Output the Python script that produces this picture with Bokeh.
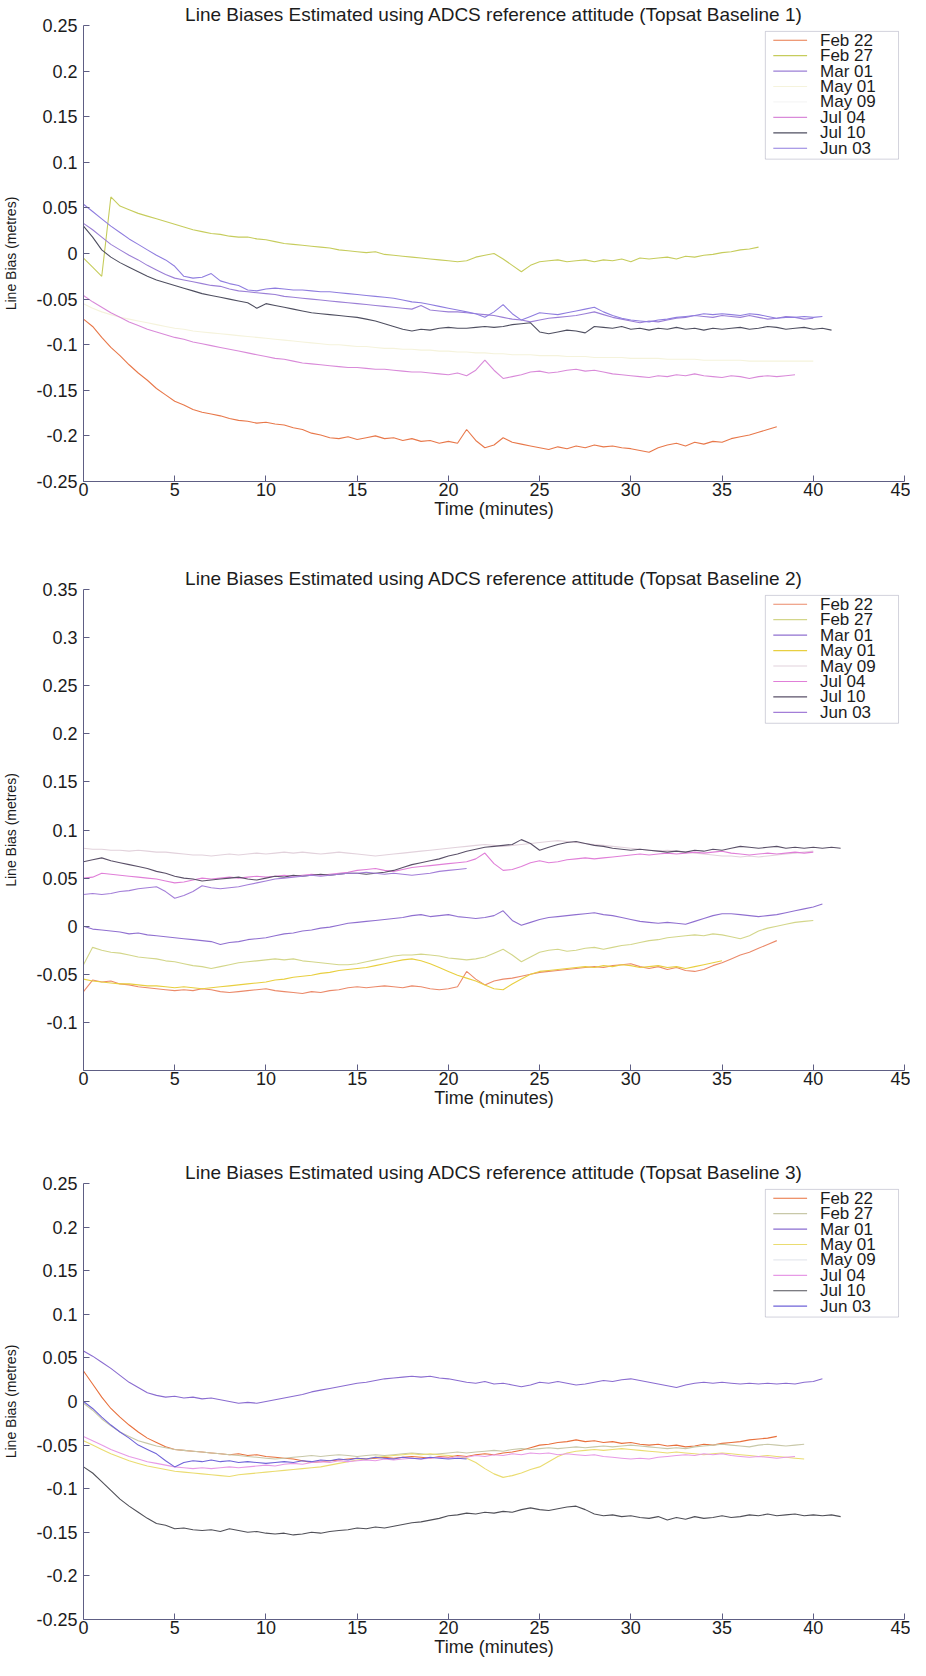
from bokeh.plotting import figure
from bokeh.models import (Range1d, FixedTicker, CustomJSTickFormatter, Label,
                          BoxAnnotation, ColumnDataSource, Spacer)
from bokeh.layouts import column
from bokeh.embed import file_html
from bokeh.resources import INLINE

STEP = 0.5  # minutes between samples

labels = ["Feb 22", "Feb 27", "Mar 01", "May 01", "May 09", "Jul 04", "Jul 10", "Jun 03"]
x_ticks = [0, 5, 10, 15, 20, 25, 30, 35, 40, 45]
y_ticks_b1 = [-0.25, -0.2, -0.15, -0.1, -0.05, 0, 0.05, 0.1, 0.15, 0.2, 0.25]
y_ticks_b2 = [-0.1, -0.05, 0, 0.05, 0.1, 0.15, 0.2, 0.25, 0.3, 0.35]
y_ticks_b3 = [-0.25, -0.2, -0.15, -0.1, -0.05, 0, 0.05, 0.1, 0.15, 0.2, 0.25]

# ---------------- Baseline 1 ----------------
b1_feb22 = [-0.072, -0.080, -0.092, -0.103, -0.112, -0.122, -0.131, -0.139, -0.148, -0.155,
            -0.162, -0.166, -0.171, -0.174, -0.176, -0.178, -0.181, -0.183, -0.184, -0.186,
            -0.185, -0.187, -0.188, -0.191, -0.193, -0.197, -0.199, -0.202, -0.203, -0.201,
            -0.204, -0.202, -0.200, -0.203, -0.202, -0.205, -0.203, -0.206, -0.205, -0.208,
            -0.206, -0.208, -0.193, -0.205, -0.213, -0.210, -0.202, -0.207, -0.209, -0.211,
            -0.213, -0.215, -0.212, -0.214, -0.211, -0.213, -0.210, -0.212, -0.211, -0.213,
            -0.214, -0.216, -0.218, -0.213, -0.210, -0.208, -0.211, -0.207, -0.209, -0.206,
            -0.207, -0.203, -0.201, -0.199, -0.196, -0.193, -0.190]
b1_feb27 = [-0.005, -0.015, -0.025, 0.062, 0.052, 0.048, 0.044, 0.041, 0.038, 0.035,
            0.032, 0.029, 0.026, 0.024, 0.022, 0.021, 0.019, 0.018, 0.018, 0.016,
            0.015, 0.013, 0.011, 0.010, 0.009, 0.008, 0.007, 0.006, 0.004, 0.003,
            0.002, 0.001, 0.002, -0.001, -0.002, -0.003, -0.004, -0.005, -0.006, -0.007,
            -0.008, -0.009, -0.008, -0.004, -0.002, 0.000, -0.006, -0.013, -0.020, -0.013,
            -0.009, -0.008, -0.007, -0.009, -0.008, -0.007, -0.009, -0.007, -0.008, -0.006,
            -0.009, -0.005, -0.006, -0.005, -0.004, -0.006, -0.003, -0.004, -0.002, -0.001,
            0.001, 0.002, 0.004, 0.005, 0.007]
b1_mar01 = [0.033, 0.026, 0.018, 0.010, 0.004, -0.002, -0.007, -0.013, -0.018, -0.023,
            -0.027, -0.029, -0.031, -0.033, -0.035, -0.036, -0.039, -0.041, -0.042, -0.043,
            -0.044, -0.045, -0.047, -0.048, -0.049, -0.050, -0.051, -0.052, -0.053, -0.054,
            -0.055, -0.056, -0.057, -0.058, -0.059, -0.060, -0.061, -0.057, -0.062, -0.063,
            -0.064, -0.064, -0.065, -0.066, -0.067, -0.068, -0.070, -0.072, -0.073, -0.075,
            -0.073, -0.071, -0.070, -0.069, -0.068, -0.066, -0.064, -0.067, -0.070, -0.072,
            -0.074, -0.076, -0.074, -0.075, -0.073, -0.071, -0.070, -0.068, -0.069, -0.070,
            -0.068, -0.069, -0.070, -0.068, -0.070, -0.072, -0.071, -0.069, -0.070, -0.072,
            -0.071]
b1_may01 = [-0.055, -0.060, -0.064, -0.067, -0.070, -0.072, -0.074, -0.076, -0.078, -0.080,
            -0.082, -0.083, -0.085, -0.086, -0.087, -0.088, -0.089, -0.090, -0.091, -0.092,
            -0.093, -0.094, -0.095, -0.096, -0.097, -0.098, -0.099, -0.100, -0.100, -0.101,
            -0.102, -0.102, -0.103, -0.104, -0.104, -0.105, -0.105, -0.106, -0.106, -0.107,
            -0.107, -0.108, -0.108, -0.109, -0.109, -0.110, -0.110, -0.111, -0.111, -0.111,
            -0.112, -0.112, -0.112, -0.113, -0.113, -0.113, -0.114, -0.114, -0.114, -0.114,
            -0.115, -0.115, -0.115, -0.115, -0.116, -0.116, -0.116, -0.116, -0.117, -0.117,
            -0.117, -0.117, -0.117, -0.118, -0.118, -0.118, -0.118, -0.118, -0.118, -0.118,
            -0.118]
b1_may09 = []
b1_jul04 = [-0.046, -0.053, -0.059, -0.065, -0.070, -0.075, -0.079, -0.083, -0.086, -0.089,
            -0.092, -0.094, -0.097, -0.099, -0.101, -0.103, -0.105, -0.107, -0.109, -0.111,
            -0.113, -0.115, -0.116, -0.118, -0.120, -0.121, -0.122, -0.123, -0.124, -0.125,
            -0.125, -0.126, -0.127, -0.127, -0.128, -0.129, -0.130, -0.130, -0.131, -0.132,
            -0.133, -0.131, -0.134, -0.128, -0.117, -0.128, -0.137, -0.135, -0.133, -0.130,
            -0.129, -0.131, -0.130, -0.128, -0.127, -0.129, -0.128, -0.130, -0.132, -0.133,
            -0.134, -0.135, -0.136, -0.134, -0.135, -0.133, -0.134, -0.132, -0.134, -0.135,
            -0.136, -0.134, -0.135, -0.137, -0.135, -0.134, -0.135, -0.134, -0.133]
b1_jul10 = [0.030, 0.018, 0.004, -0.004, -0.010, -0.015, -0.020, -0.025, -0.029, -0.032,
            -0.035, -0.038, -0.041, -0.044, -0.046, -0.048, -0.050, -0.052, -0.054, -0.060,
            -0.055, -0.057, -0.059, -0.061, -0.063, -0.065, -0.066, -0.067, -0.068, -0.069,
            -0.070, -0.072, -0.074, -0.077, -0.080, -0.083, -0.085, -0.083, -0.084, -0.082,
            -0.081, -0.082, -0.082, -0.081, -0.080, -0.081, -0.080, -0.078, -0.077, -0.076,
            -0.086, -0.088, -0.086, -0.084, -0.085, -0.087, -0.080, -0.081, -0.082, -0.080,
            -0.083, -0.082, -0.084, -0.082, -0.083, -0.081, -0.083, -0.082, -0.084, -0.082,
            -0.083, -0.082, -0.081, -0.083, -0.082, -0.080, -0.081, -0.083, -0.082, -0.081,
            -0.083, -0.082, -0.084]
b1_jun03 = [0.054, 0.046, 0.038, 0.030, 0.023, 0.016, 0.010, 0.004, -0.002, -0.007,
            -0.014, -0.025, -0.027, -0.026, -0.022, -0.030, -0.033, -0.035, -0.040, -0.041,
            -0.039, -0.038, -0.039, -0.040, -0.040, -0.041, -0.042, -0.042, -0.043, -0.044,
            -0.045, -0.046, -0.047, -0.048, -0.049, -0.051, -0.053, -0.054, -0.056, -0.058,
            -0.060, -0.062, -0.064, -0.066, -0.070, -0.064, -0.056, -0.066, -0.073, -0.069,
            -0.065, -0.066, -0.067, -0.065, -0.063, -0.061, -0.059, -0.064, -0.068, -0.071,
            -0.073, -0.074, -0.075, -0.073, -0.072, -0.070, -0.069, -0.068, -0.066, -0.067,
            -0.066, -0.067, -0.068, -0.066, -0.067, -0.069, -0.071, -0.070, -0.070, -0.069,
            -0.070, -0.069]

# ---------------- Baseline 2 ----------------
b2_feb22 = [-0.068, -0.056, -0.058, -0.057, -0.060, -0.061, -0.063, -0.064, -0.065, -0.066,
            -0.067, -0.066, -0.067, -0.065, -0.066, -0.068, -0.069, -0.068, -0.067, -0.066,
            -0.065, -0.067, -0.068, -0.069, -0.070, -0.068, -0.069, -0.067, -0.066, -0.064,
            -0.063, -0.064, -0.063, -0.062, -0.063, -0.064, -0.062, -0.063, -0.065, -0.066,
            -0.065, -0.063, -0.047, -0.055, -0.061, -0.057, -0.055, -0.054, -0.052, -0.050,
            -0.048, -0.047, -0.046, -0.045, -0.044, -0.043, -0.042, -0.043, -0.041, -0.040,
            -0.039, -0.042, -0.044, -0.042, -0.045, -0.043, -0.046, -0.047, -0.045, -0.041,
            -0.038, -0.034, -0.030, -0.027, -0.023, -0.019, -0.015]
b2_feb27 = [-0.040, -0.022, -0.025, -0.027, -0.028, -0.030, -0.032, -0.033, -0.034, -0.036,
            -0.037, -0.039, -0.041, -0.042, -0.044, -0.042, -0.040, -0.038, -0.037, -0.036,
            -0.035, -0.034, -0.035, -0.034, -0.036, -0.037, -0.038, -0.039, -0.040, -0.040,
            -0.039, -0.037, -0.035, -0.033, -0.031, -0.030, -0.030, -0.029, -0.030, -0.031,
            -0.033, -0.034, -0.035, -0.034, -0.032, -0.028, -0.024, -0.030, -0.037, -0.032,
            -0.027, -0.025, -0.024, -0.026, -0.025, -0.023, -0.022, -0.024, -0.022, -0.020,
            -0.019, -0.017, -0.015, -0.014, -0.012, -0.011, -0.010, -0.009, -0.010, -0.008,
            -0.009, -0.011, -0.013, -0.010, -0.005, -0.002, 0.000, 0.002, 0.004, 0.005,
            0.006]
b2_mar01 = [0.000, -0.003, -0.004, -0.005, -0.006, -0.008, -0.007, -0.009, -0.010, -0.011,
            -0.012, -0.013, -0.014, -0.015, -0.016, -0.019, -0.017, -0.016, -0.014, -0.013,
            -0.012, -0.010, -0.008, -0.007, -0.005, -0.004, -0.002, -0.001, 0.001, 0.003,
            0.004, 0.005, 0.006, 0.007, 0.008, 0.009, 0.011, 0.012, 0.010, 0.011,
            0.012, 0.010, 0.009, 0.008, 0.009, 0.011, 0.016, 0.006, 0.001, 0.004,
            0.007, 0.009, 0.010, 0.011, 0.012, 0.013, 0.014, 0.012, 0.011, 0.009,
            0.007, 0.005, 0.004, 0.003, 0.004, 0.003, 0.002, 0.005, 0.008, 0.011,
            0.013, 0.013, 0.012, 0.011, 0.010, 0.011, 0.012, 0.014, 0.016, 0.018,
            0.020, 0.023]
b2_may01 = [-0.055, -0.057, -0.058, -0.059, -0.060, -0.060, -0.061, -0.062, -0.062, -0.063,
            -0.064, -0.063, -0.064, -0.065, -0.064, -0.063, -0.062, -0.061, -0.060, -0.059,
            -0.058, -0.056, -0.055, -0.053, -0.052, -0.051, -0.049, -0.048, -0.046, -0.045,
            -0.044, -0.043, -0.041, -0.039, -0.037, -0.035, -0.034, -0.036, -0.039, -0.043,
            -0.047, -0.051, -0.054, -0.057, -0.061, -0.065, -0.066, -0.060, -0.055, -0.050,
            -0.047, -0.046, -0.045, -0.044, -0.043, -0.042, -0.043, -0.041, -0.042, -0.040,
            -0.041, -0.043, -0.042, -0.041, -0.043, -0.042, -0.044, -0.042, -0.040, -0.038,
            -0.036]
b2_may09 = [0.081, 0.080, 0.080, 0.079, 0.079, 0.078, 0.079, 0.078, 0.077, 0.077,
            0.076, 0.075, 0.074, 0.074, 0.073, 0.074, 0.075, 0.074, 0.075, 0.076,
            0.075, 0.076, 0.077, 0.076, 0.077, 0.076, 0.075, 0.076, 0.077, 0.076,
            0.075, 0.074, 0.073, 0.074, 0.075, 0.076, 0.077, 0.078, 0.079, 0.080,
            0.081, 0.082, 0.083, 0.084, 0.085, 0.084, 0.083, 0.084, 0.085, 0.086,
            0.087, 0.088, 0.089, 0.088, 0.087, 0.086, 0.085, 0.084, 0.083, 0.082,
            0.081, 0.080, 0.079, 0.078, 0.079, 0.078, 0.077, 0.076, 0.075, 0.074,
            0.073, 0.073, 0.072, 0.073, 0.072, 0.073, 0.074, 0.075, 0.076, 0.077,
            0.078]
b2_jul04 = [0.050, 0.051, 0.055, 0.054, 0.053, 0.052, 0.051, 0.050, 0.049, 0.047,
            0.045, 0.046, 0.048, 0.050, 0.049, 0.050, 0.051, 0.050, 0.051, 0.052,
            0.051, 0.052, 0.053, 0.052, 0.053, 0.054, 0.053, 0.054, 0.055, 0.056,
            0.058, 0.059, 0.060, 0.058, 0.057, 0.059, 0.061, 0.062, 0.063, 0.064,
            0.065, 0.066, 0.067, 0.070, 0.076, 0.065, 0.058, 0.059, 0.062, 0.066,
            0.068, 0.066, 0.067, 0.069, 0.070, 0.071, 0.070, 0.071, 0.072, 0.073,
            0.074, 0.075, 0.074, 0.075, 0.076, 0.075, 0.076, 0.077, 0.076, 0.077,
            0.078, 0.076, 0.075, 0.074, 0.075, 0.076, 0.075, 0.076, 0.077, 0.076,
            0.077]
b2_jul10 = [0.067, 0.069, 0.071, 0.068, 0.066, 0.064, 0.062, 0.060, 0.057, 0.055,
            0.052, 0.050, 0.049, 0.047, 0.048, 0.049, 0.050, 0.051, 0.049, 0.048,
            0.050, 0.052, 0.051, 0.053, 0.052, 0.053, 0.054, 0.053, 0.054, 0.055,
            0.055, 0.054, 0.055, 0.056, 0.058, 0.061, 0.064, 0.066, 0.068, 0.070,
            0.073, 0.075, 0.078, 0.080, 0.082, 0.083, 0.084, 0.085, 0.090, 0.086,
            0.079, 0.082, 0.085, 0.087, 0.088, 0.086, 0.084, 0.083, 0.081, 0.080,
            0.079, 0.080, 0.079, 0.078, 0.077, 0.078, 0.077, 0.079, 0.078, 0.080,
            0.079, 0.081, 0.083, 0.082, 0.081, 0.082, 0.083, 0.081, 0.082, 0.081,
            0.082, 0.081, 0.082, 0.081]
b2_jun03 = [0.033, 0.034, 0.033, 0.034, 0.036, 0.037, 0.039, 0.040, 0.041, 0.036,
            0.029, 0.032, 0.036, 0.042, 0.040, 0.039, 0.040, 0.041, 0.043, 0.045,
            0.047, 0.049, 0.050, 0.051, 0.052, 0.053, 0.052, 0.053, 0.054, 0.055,
            0.055, 0.056, 0.055, 0.054, 0.055, 0.054, 0.053, 0.054, 0.055, 0.057,
            0.058, 0.059, 0.060]

# ---------------- Baseline 3 ----------------
b3_feb22 = [0.035, 0.020, 0.005, -0.008, -0.018, -0.027, -0.035, -0.042, -0.047, -0.052,
            -0.055, -0.056, -0.057, -0.058, -0.059, -0.060, -0.061, -0.060, -0.062, -0.061,
            -0.063, -0.064, -0.065, -0.066, -0.068, -0.070, -0.069, -0.068, -0.067, -0.066,
            -0.065, -0.066, -0.065, -0.064, -0.065, -0.064, -0.063, -0.064, -0.065, -0.063,
            -0.064, -0.062, -0.063, -0.061, -0.060, -0.061, -0.059, -0.058, -0.056, -0.053,
            -0.050, -0.049, -0.047, -0.046, -0.044, -0.046, -0.045, -0.047, -0.046, -0.048,
            -0.047, -0.049, -0.050, -0.049, -0.051, -0.050, -0.052, -0.051, -0.049, -0.050,
            -0.048, -0.047, -0.046, -0.044, -0.043, -0.042, -0.040]
b3_feb27 = [-0.002, -0.010, -0.020, -0.028, -0.035, -0.040, -0.045, -0.048, -0.051, -0.053,
            -0.055, -0.056, -0.057, -0.058, -0.059, -0.060, -0.061, -0.062, -0.063, -0.064,
            -0.065, -0.066, -0.065, -0.064, -0.063, -0.062, -0.063, -0.062, -0.061, -0.062,
            -0.063, -0.062, -0.061, -0.062, -0.061, -0.060, -0.059, -0.060, -0.061, -0.060,
            -0.059, -0.058, -0.059, -0.058, -0.057, -0.056, -0.057, -0.055, -0.054, -0.055,
            -0.054, -0.053, -0.054, -0.053, -0.052, -0.053, -0.052, -0.051, -0.052, -0.051,
            -0.050, -0.051, -0.052, -0.053, -0.054, -0.053, -0.054, -0.052, -0.051, -0.050,
            -0.049, -0.050, -0.051, -0.052, -0.050, -0.049, -0.050, -0.051, -0.050, -0.049]
b3_mar01 = [0.058, 0.052, 0.045, 0.038, 0.030, 0.022, 0.016, 0.010, 0.007, 0.005,
            0.006, 0.004, 0.005, 0.003, 0.004, 0.002, 0.000, -0.002, -0.001, -0.002,
            0.000, 0.002, 0.004, 0.006, 0.008, 0.011, 0.013, 0.015, 0.017, 0.019,
            0.021, 0.022, 0.024, 0.026, 0.027, 0.028, 0.029, 0.028, 0.029, 0.027,
            0.026, 0.024, 0.022, 0.021, 0.023, 0.020, 0.021, 0.019, 0.017, 0.019,
            0.022, 0.021, 0.023, 0.021, 0.019, 0.020, 0.022, 0.024, 0.023, 0.025,
            0.026, 0.024, 0.022, 0.020, 0.018, 0.016, 0.019, 0.021, 0.022, 0.021,
            0.022, 0.021, 0.020, 0.021, 0.020, 0.021, 0.020, 0.021, 0.020, 0.022,
            0.023, 0.026]
b3_may01 = [-0.045, -0.050, -0.055, -0.060, -0.064, -0.068, -0.071, -0.074, -0.076, -0.078,
            -0.080, -0.081, -0.082, -0.083, -0.084, -0.085, -0.086, -0.084, -0.083, -0.082,
            -0.081, -0.080, -0.079, -0.078, -0.077, -0.076, -0.075, -0.073, -0.071, -0.069,
            -0.067, -0.066, -0.064, -0.063, -0.062, -0.061, -0.060, -0.061, -0.060, -0.061,
            -0.062, -0.063, -0.065, -0.070, -0.077, -0.083, -0.087, -0.085, -0.082, -0.078,
            -0.075, -0.069, -0.063, -0.059, -0.057, -0.056, -0.055, -0.056, -0.055, -0.054,
            -0.055, -0.056, -0.057, -0.058, -0.059, -0.058, -0.059, -0.060, -0.061, -0.060,
            -0.059, -0.060, -0.061, -0.062, -0.063, -0.062, -0.063, -0.064, -0.065, -0.066]
b3_may09 = []
b3_jul04 = [-0.040, -0.045, -0.050, -0.055, -0.059, -0.063, -0.066, -0.069, -0.071, -0.073,
            -0.075, -0.076, -0.077, -0.076, -0.077, -0.076, -0.075, -0.076, -0.075, -0.074,
            -0.073, -0.074, -0.072, -0.071, -0.072, -0.070, -0.069, -0.070, -0.068, -0.069,
            -0.068, -0.067, -0.068, -0.066, -0.067, -0.066, -0.065, -0.066, -0.065, -0.064,
            -0.065, -0.063, -0.064, -0.062, -0.063, -0.061, -0.062, -0.060, -0.061, -0.059,
            -0.060, -0.059, -0.061, -0.060, -0.061, -0.062, -0.061, -0.063, -0.064, -0.065,
            -0.066, -0.065, -0.066, -0.064, -0.063, -0.062, -0.061, -0.062, -0.060, -0.061,
            -0.060, -0.062, -0.063, -0.064, -0.063, -0.064, -0.065, -0.064, -0.063]
b3_jul10 = [-0.075, -0.082, -0.092, -0.102, -0.112, -0.120, -0.127, -0.134, -0.140, -0.142,
            -0.146, -0.145, -0.147, -0.148, -0.147, -0.149, -0.146, -0.148, -0.150, -0.149,
            -0.151, -0.152, -0.151, -0.153, -0.152, -0.150, -0.151, -0.149, -0.148, -0.147,
            -0.145, -0.146, -0.144, -0.145, -0.143, -0.141, -0.139, -0.138, -0.136, -0.134,
            -0.131, -0.130, -0.128, -0.129, -0.127, -0.128, -0.126, -0.127, -0.124, -0.122,
            -0.124, -0.125, -0.123, -0.121, -0.120, -0.124, -0.129, -0.131, -0.130, -0.132,
            -0.131, -0.133, -0.134, -0.132, -0.136, -0.133, -0.135, -0.132, -0.134, -0.133,
            -0.131, -0.133, -0.132, -0.130, -0.131, -0.129, -0.131, -0.130, -0.129, -0.131,
            -0.130, -0.131, -0.130, -0.132]
b3_jun03 = [0.000, -0.008, -0.018, -0.027, -0.035, -0.042, -0.050, -0.055, -0.060, -0.068,
            -0.075, -0.070, -0.068, -0.069, -0.067, -0.069, -0.068, -0.070, -0.069, -0.070,
            -0.071, -0.070, -0.069, -0.070, -0.068, -0.069, -0.067, -0.068, -0.066, -0.067,
            -0.065, -0.066, -0.064, -0.065, -0.066, -0.064, -0.065, -0.066, -0.064, -0.065,
            -0.066, -0.065, -0.066]

series_b1 = [b1_feb22, b1_feb27, b1_mar01, b1_may01, b1_may09, b1_jul04, b1_jul10, b1_jun03]
series_b2 = [b2_feb22, b2_feb27, b2_mar01, b2_may01, b2_may09, b2_jul04, b2_jul10, b2_jun03]
series_b3 = [b3_feb22, b3_feb27, b3_mar01, b3_may01, b3_may09, b3_jul04, b3_jul10, b3_jun03]

colors_b1 = ["#e8784a", "#c6cc5c", "#9b7fd6", "#f5f3dc", "#f6f6f6", "#d98ad9", "#4f4f60", "#8f7ddf"]
colors_b2 = ["#eb8a6a", "#d3d68a", "#9070d0", "#e8cf40", "#e2d2dc", "#e07fd8", "#5a5068", "#a37ed8"]
colors_b3 = ["#e8703c", "#c8c8a8", "#8a6cd0", "#eadc70", "#e6e8ee", "#e79ae6", "#505058", "#6f63d8"]

FONT = "Liberation Sans"
TEXT = "#1c1c1c"
AXIS = "#5e5e84"
FRAME_W = 826  # px
BORDER_L = 78
BORDER_R = 6

fmt_code = """
let s = tick.toFixed(2);
if (s.indexOf('.') >= 0) { s = s.replace(/0+$/, '').replace(/\\.$/, ''); }
if (s === '-0') { s = '0'; }
return s;
"""


def make_fig(title, series, colors, y0, y1, yticks, frame_h, top_b, bot_b):
    p = figure(width=BORDER_L + FRAME_W + BORDER_R, height=top_b + frame_h + bot_b,
               x_range=Range1d(0, 45), y_range=Range1d(y0, y1),
               output_backend="svg", toolbar_location=None,
               min_border_left=BORDER_L, min_border_right=BORDER_R,
               min_border_top=top_b, min_border_bottom=bot_b)
    p.title.text = title
    p.title.align = "center"
    p.title.text_font = FONT
    p.title.text_font_size = "19px"
    p.title.text_font_style = "normal"
    p.title.text_color = TEXT
    p.title.text_line_height = 1.0
    p.title.standoff = 2
    p.outline_line_color = None
    p.xgrid.visible = False
    p.ygrid.visible = False
    p.background_fill_color = "white"
    p.border_fill_color = "white"

    for vals, col in zip(series, colors):
        if not vals:
            continue
        src = ColumnDataSource(dict(t=[i * STEP for i in range(len(vals))], v=vals))
        p.line("t", "v", source=src, line_color=col, line_width=1.1)

    for ax in (p.xaxis[0], p.yaxis[0]):
        ax.axis_line_color = AXIS
        ax.major_tick_line_color = AXIS
        ax.major_tick_in = 6
        ax.major_tick_out = 0
        ax.minor_tick_line_color = None
        ax.major_label_text_font = FONT
        ax.major_label_text_font_size = "18px"
        ax.major_label_text_color = TEXT
        ax.axis_label_text_font = FONT
        ax.axis_label_text_font_style = "normal"
        ax.axis_label_text_color = TEXT
        ax.major_label_text_line_height = 1.0
        ax.axis_label_text_line_height = 1.0

    p.xaxis.ticker = FixedTicker(ticks=x_ticks)
    p.xaxis.axis_label = "Time (minutes)"
    p.xaxis.axis_label_text_font_size = "18px"
    p.xaxis.major_label_standoff = 1
    p.xaxis.axis_label_standoff = 0

    p.yaxis.ticker = FixedTicker(ticks=yticks)
    p.yaxis.formatter = CustomJSTickFormatter(code=fmt_code)
    p.yaxis.axis_label = "Line Bias (metres)"
    p.yaxis.axis_label_text_font_size = "14px"
    p.yaxis.major_label_standoff = 6
    p.yaxis.axis_label_standoff = 14

    # legend box (MATLAB style), placed by pixel offsets from the frame's top-right corner
    kx = 45.0 / FRAME_W
    ky = (y1 - y0) / frame_h
    right = 45 - 6 * kx
    left = right - 134 * kx
    top = y1 - 6 * ky
    bottom = top - 130 * ky
    p.add_layout(BoxAnnotation(left=left, right=right, top=top, bottom=bottom,
                               fill_color="white", fill_alpha=1.0,
                               line_color="#6a6a8a", line_width=1, level="annotation"))
    for i, (name, col) in enumerate(zip(labels, colors)):
        yc = y1 - (15 + i * 15.7) * ky
        p.add_layout(BoxAnnotation(left=left + 8 * kx, right=left + 42 * kx,
                                   top=yc + 0.6 * ky, bottom=yc - 0.6 * ky,
                                   fill_color=col, fill_alpha=1.0, line_color=None,
                                   level="annotation"))
        p.add_layout(Label(x=left + 55 * kx, y=yc, text=name, text_font=FONT,
                           text_font_size="17px", text_color=TEXT,
                           text_baseline="middle", text_align="left"))
    return p


p1 = make_fig("Line Biases Estimated using ADCS reference attitude (Topsat Baseline 1)",
              series_b1, colors_b1, -0.25, 0.25, y_ticks_b1, 464, 22, 35)
p2 = make_fig("Line Biases Estimated using ADCS reference attitude (Topsat Baseline 2)",
              series_b2, colors_b2, -0.15, 0.35, y_ticks_b2, 489, 22, 35)
p3 = make_fig("Line Biases Estimated using ADCS reference attitude (Topsat Baseline 3)",
              series_b3, colors_b3, -0.25, 0.25, y_ticks_b3, 444, 22, 35)

layout = column(p1, Spacer(height=43), p2, Spacer(height=48), p3, spacing=0)

open("out.html", "w").write(file_html(layout, INLINE))
